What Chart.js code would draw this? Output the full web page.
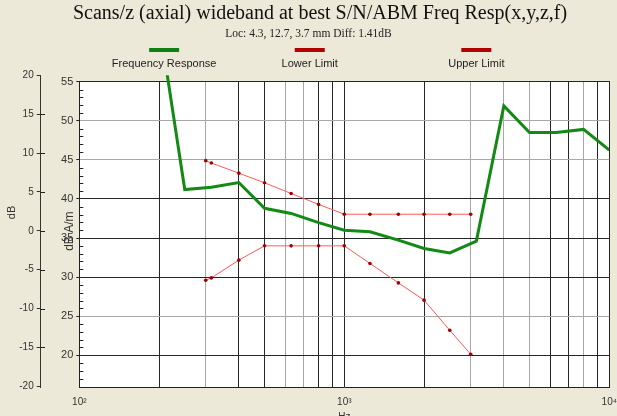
<!DOCTYPE html>
<html><head><meta charset="utf-8">
<script src="https://cdn.jsdelivr.net/npm/chart.js@4"></script>
<style>html,body{margin:0;padding:0;background:#ECE9D8;overflow:hidden}#wrap{width:617px;height:416px}</style>
</head><body><div id="wrap"><canvas id="c" width="617" height="416"></canvas></div>
<script>
const titleText = 'Scans/z (axial) wideband at best S/N/ABM Freq Resp(x,y,z,f)';
const subtitleText = 'Loc: 4.3, 12.7, 3.7 mm Diff: 1.41dB';
const seriesNames = ['Frequency Response', 'Lower Limit', 'Upper Limit'];
const respFreqs = [200, 250, 315, 400, 500, 630, 800, 1000, 1250, 1600, 2000, 2500, 3150, 4000, 5000, 6300, 8000, 10000];
const respValues = [62.7, 41.2, 41.5, 42.1, 38.8, 38.15, 36.97, 36.0, 35.8, 34.73, 33.67, 33.1, 34.6, 51.9, 48.5, 48.5, 48.9, 46.25];
const limitFreqs = [300, 315, 400, 500, 630, 800, 1000, 1250, 1600, 2000, 2500, 3000];
const lowerValues = [29.6, 29.9, 32.17, 34.0, 34.0, 34.0, 34.0, 31.75, 29.26, 27.05, 23.2, 20.13];
const upperValues = [44.9, 44.6, 43.3, 42.07, 40.7, 39.3, 38.05, 38.05, 38.05, 38.05, 38.05, 38.05];
const xTickLabels = {100: '10²', 1000: '10³', 10000: '10⁴'};
const xAxisTitle = 'Hz';
const yAxisTitle = 'dB A/m';
const y2AxisTitle = 'dB';

const BEIGE = '#ECE9D8';
const DARK = '#262626', GRAY = '#a8a8a8';
const darkX = [100, 200, 400, 500, 800, 900, 1000, 2000, 6000, 7000, 9000, 10000];
const darkY = [55, 40, 35, 30, 20];
const SANS = '"Liberation Sans", Arial, sans-serif';
const SERIF = '"Liberation Serif", "Times New Roman", serif';

function toPts(xs, ys) { return xs.map((x, i) => ({x: x, y: ys[i]})); }

const decorPlugin = {
  id: 'decor',
  beforeDraw(chart) {
    const {ctx, chartArea: a, scales} = chart;
    ctx.save();
    ctx.fillStyle = BEIGE;
    ctx.fillRect(0, 0, chart.width, chart.height);
    const top = scales.y.getPixelForValue(55);
    ctx.fillStyle = '#ffffff';
    ctx.fillRect(a.left, top, a.right - a.left, a.bottom - top);
    ctx.restore();
  },
  beforeDatasetsDraw(chart) {
    const {ctx, chartArea: a, scales} = chart;
    const top = Math.floor(scales.y.getPixelForValue(55));
    ctx.save();
    ctx.fillStyle = BEIGE;
    ctx.fillRect(a.left - 2, a.top - 3, a.right - a.left + 6, top - a.top + 3);
    ctx.strokeStyle = '#222';
    ctx.lineWidth = 1;
    ctx.beginPath();
    for (let v = Math.ceil(scales.y.min); v < 55; v++) {
      if (v % 5 === 0) continue;
      const y = Math.round(scales.y.getPixelForValue(v)) + 0.5;
      ctx.moveTo(a.left, y); ctx.lineTo(a.left + 4, y);
    }
    const yl = scales.yL;
    yl.ticks.forEach(t => {
      if (t.value >= yl.max || t.value <= -20) return;
      const y = Math.round(yl.getPixelForValue(t.value)) + 0.5;
      ctx.moveTo(Math.round(yl.right) - 0.5, y); ctx.lineTo(Math.round(yl.right) + 4, y);
    });
    ctx.stroke();
    ctx.restore();
  },
  afterDraw(chart) {
    const {ctx, chartArea: a, scales} = chart;
    ctx.save();
    ctx.textAlign = 'center';
    ctx.textBaseline = 'middle';
    // main title
    ctx.fillStyle = '#111';
    ctx.font = '20px ' + SERIF;
    ctx.fillText(titleText, 320, 13.5);
    // axis titles
    ctx.fillStyle = '#333';
    ctx.font = '11px ' + SANS;
    ctx.save();
    ctx.translate(12, a.top + (a.bottom - a.top) * 0.44);
    ctx.rotate(-Math.PI / 2);
    ctx.fillText(y2AxisTitle, 0, 0);
    ctx.restore();
    ctx.font = '12px ' + SANS;
    ctx.save();
    ctx.translate(scales.y.right - 10, (a.top + a.bottom) / 2);
    ctx.rotate(-Math.PI / 2);
    ctx.fillText(yAxisTitle, 0, 0);
    ctx.restore();
    // legend
    const centers = [0.266, 0.502, 0.772];
    ctx.font = '11px ' + SANS;
    chart.data.datasets.forEach((ds, i) => {
      const cx = chart.width * centers[i];
      ctx.fillStyle = ds.legendColor;
      ctx.fillRect(cx - 15, 48, 30, 4);
      ctx.fillStyle = '#222';
      ctx.fillText(ds.label, cx, 64);
    });
    ctx.restore();
  }
};

new Chart(document.getElementById('c'), {
  type: 'line',
  data: {
    datasets: [
      {label: seriesNames[0], data: toPts(respFreqs, respValues), yAxisID: 'y',
       borderColor: '#138a13', legendColor: '#108010', borderWidth: 3, pointRadius: 0, tension: 0},
      {label: seriesNames[1], data: toPts(limitFreqs, lowerValues), yAxisID: 'y',
       borderColor: '#ff5a5a', legendColor: '#b00000', borderWidth: 1, pointRadius: 1.8,
       pointBackgroundColor: '#a00000', pointBorderWidth: 0, tension: 0},
      {label: seriesNames[2], data: toPts(limitFreqs, upperValues), yAxisID: 'y',
       borderColor: '#ff5a5a', legendColor: '#b00000', borderWidth: 1, pointRadius: 1.8,
       pointBackgroundColor: '#a00000', pointBorderWidth: 0, tension: 0}
    ]
  },
  options: {
    responsive: false,
    animation: false,
    devicePixelRatio: 1,
    events: [],
    layout: {padding: {top: 0, left: 0, right: 0, bottom: -7}},
    plugins: {
      legend: {display: false},
      tooltip: {enabled: false},
      title: {display: false},
      subtitle: {display: true, text: subtitleText, color: '#222',
              font: {family: SERIF, size: 11.5, weight: 'normal'},
              padding: {top: 27.4, bottom: 34.1}}
    },
    scales: {
      x: {
        type: 'logarithmic', min: 100, max: 10000,
        afterBuildTicks: s => {
          s.ticks = s.ticks.filter(t => {
            const p = Math.pow(10, Math.floor(Math.log10(t.value) + 1e-9));
            const r = t.value / p;
            return Math.abs(r - Math.round(r)) < 1e-6;
          });
        },
        grid: {color: c => (c.tick && darkX.indexOf(Math.round(c.tick.value)) < 0) ? GRAY : DARK,
               drawTicks: true, tickLength: 9, tickColor: 'rgba(0,0,0,0)', lineWidth: 1},
        border: {color: '#222'},
        ticks: {autoSkip: false, maxRotation: 0, padding: 0, color: '#333',
                font: {family: SANS, size: 10},
                callback: v => xTickLabels[v] || ''},
        title: {display: true, text: xAxisTitle, color: '#333',
                font: {family: SANS, size: 10}, padding: {top: 3, bottom: 0}}
      },
      y: {
        position: 'left', weight: 0, min: 15.94, max: 55.82,
        afterFit: s => { s.width = 38.6; },
        grid: {color: c => (c.tick && darkY.indexOf(Math.round(c.tick.value)) < 0) ? GRAY : DARK, tickColor: '#222', tickLength: 3},
        border: {color: '#222'},
        ticks: {stepSize: 5, includeBounds: false, padding: 3, color: '#333',
                font: {family: SANS, size: 11}}
      },
      yL: {
        position: 'left', weight: 1, min: -20.08, max: 20,
        afterFit: s => { s.width = 40.7; },
        grid: {drawOnChartArea: false, color: '#333', tickLength: 4},
        border: {color: '#333'},
        ticks: {stepSize: 5, includeBounds: false, padding: 3, color: '#333',
                font: {family: SANS, size: 10}}
      }
    }
  },
  plugins: [decorPlugin]
});
</script>
</body></html>
